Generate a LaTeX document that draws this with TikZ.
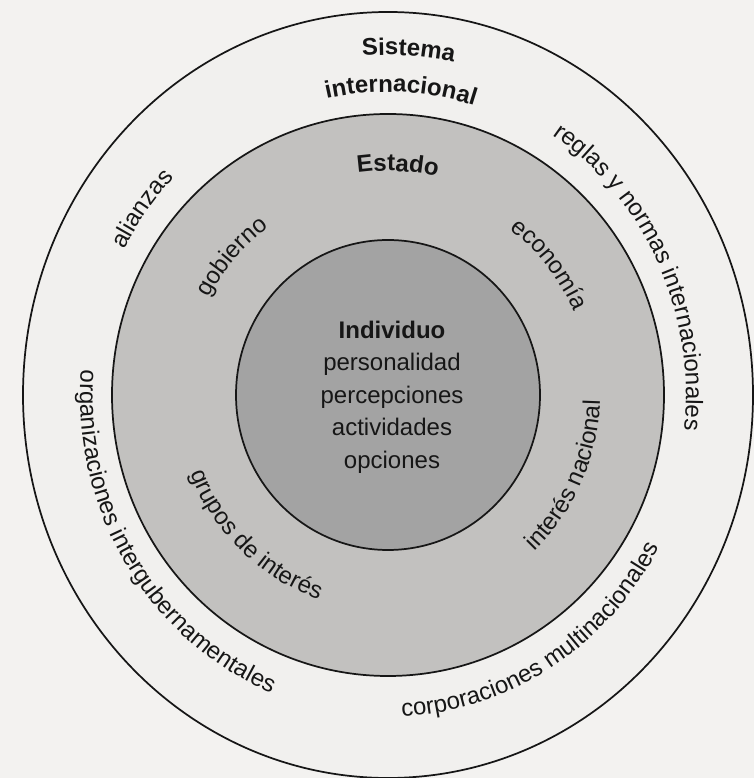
\documentclass[tikz,border=0pt]{standalone}
\usepackage{fontspec}
\setmainfont{Liberation Sans}
\usetikzlibrary{decorations.text}
\definecolor{paper}{HTML}{F3F2F0}
\definecolor{sysband}{HTML}{F1F0EE}
\definecolor{stateband}{HTML}{C2C1BF}
\definecolor{indivcore}{HTML}{A3A3A3}
\definecolor{ink}{HTML}{161616}
\newcommand{\lbl}{\fontsize{18}{22}\selectfont}
\newcommand{\blbl}{\fontsize{18}{22}\selectfont\bfseries}
\begin{document}
\begin{tikzpicture}[
    x=0.75pt, y=0.75pt,
    ring/.style={draw=ink, line width=1.3pt},
    arctext/.style={decorate, decoration={text along path, text align=center, text color=ink, text={#1}}}
]
\useasboundingbox[fill=paper] (0,0) rectangle (754,778);
\coordinate (c) at (388,383);

% the three levels
\draw[ring, fill=sysband] (c) ellipse [x radius=365, y radius=383];
\draw[ring, fill=stateband] (c) ellipse [x radius=276, y radius=281];
\draw[ring, fill=indivcore] (c) ellipse [x radius=152, y radius=155];

% sistema internacional
\path[arctext={|\blbl|Sistema}] (c) ++(126.5:325 and 340) arc[start angle=126.5, end angle=46.5, x radius=325, y radius=340];
\path[arctext={|\blbl|internacional}] (c) ++(127.5:290 and 303) arc[start angle=127.5, end angle=47.5, x radius=290, y radius=303];
\path[arctext={|\lbl|alianzas}] (c) ++(183.6:298 and 312) arc[start angle=183.6, end angle=103.6, x radius=298, y radius=312];
\path[arctext={|\lbl|reglas y normas internacionales}] (c) ++(75.3:298 and 312) arc[start angle=75.3, end angle=-24.7, x radius=298, y radius=312];
\path[arctext={|\lbl|organizaciones intergubernamentales}] (c) ++(157:308 and 322) arc[start angle=157, end angle=267, x radius=308, y radius=322];
\path[arctext={|\lbl|corporaciones multinacionales}] (c) ++(251.8:308 and 322) arc[start angle=251.8, end angle=351.8, x radius=308, y radius=322];

% estado
\path[arctext={|\blbl|Estado}] (c) ++(127.5:219 and 224) arc[start angle=127.5, end angle=47.5, x radius=219, y radius=224];
\path[arctext={|\lbl|gobierno}] (c) ++(178.8:203 and 207) arc[start angle=178.8, end angle=98.8, x radius=203, y radius=207];
\path[arctext={|\lbl|economía}] (c) ++(78.6:203 and 207) arc[start angle=78.6, end angle=-1.4, x radius=203, y radius=207];
\path[arctext={|\lbl|grupos de interés}] (c) ++(181.3:212 and 216) arc[start angle=181.3, end angle=271.3, x radius=212, y radius=216];
\path[arctext={|\lbl|interés nacional}] (c) ++(291:212 and 216) arc[start angle=291, end angle=381, x radius=212, y radius=216];

% individuo
\node[align=center, text=ink, font=\fontsize{18}{24.4}\selectfont] (indiv) at (392,381)
    {\textbf{Individuo}\\personalidad\\percepciones\\actividades\\opciones};
\end{tikzpicture}
\end{document}
